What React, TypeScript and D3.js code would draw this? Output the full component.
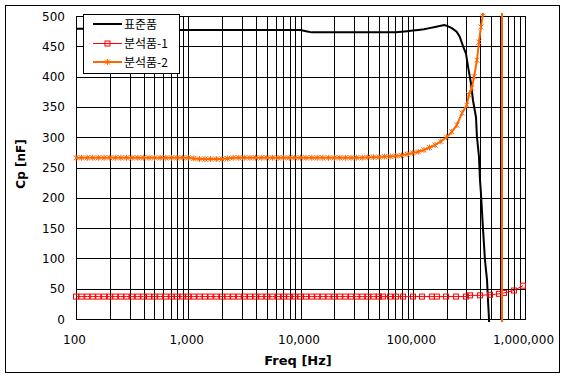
import React from "react";
import * as d3 from "d3";

// ---- data ----
const blackFreq = [
  100, 112, 126, 141, 158, 178, 200, 224, 251, 282, 316, 355, 398, 447, 501, 562, 631, 708, 794, 891,
  1000, 1120, 1260, 1410, 1580, 1780, 2000, 2240, 2510, 2820, 3160, 3550, 3980, 4470, 5010, 5620, 6310, 7080, 7940, 8910,
  10000, 11200, 12600, 14100, 15800, 17800, 20000, 22400, 25100, 28200, 31600, 35500, 39800, 44700, 50100, 56200, 63100, 70800, 79400, 89100,
  100000, 112000, 126000, 141000, 158000, 178000, 190000, 200000, 223000, 246000, 262000, 282000, 298000, 311000, 330000, 344000,
  366000, 373000, 389000, 397000, 405000, 423000, 440000, 459000, 468000, 478000, 490000, 520000,
];
const blackCp = [
  479, 479, 479, 479, 479, 479, 478, 478, 478, 478, 478, 478, 478, 478, 478, 477, 477, 477, 477, 477,
  477, 477, 477, 477, 477, 477, 477, 477, 477, 477, 477, 477, 477, 477, 477, 477, 477, 477, 477, 477,
  477, 475, 473, 473, 473, 473, 473, 473, 473, 473, 473, 473, 473, 473, 473, 473, 473, 473, 474, 475,
  476, 477, 478, 480, 482, 484, 485, 484, 480, 474, 466, 449, 438, 416, 389, 361,
  333, 301, 268, 230, 208, 147, 97, 64, 31, 0, -150, -600,
];

const redFreq = [
  100, 112, 126, 141, 158, 178, 200, 224, 251, 282, 316, 355, 398, 447, 501, 562, 631, 708, 794, 891,
  1000, 1120, 1260, 1410, 1580, 1780, 2000, 2240, 2510, 2820, 3160, 3550, 3980, 4470, 5010, 5620, 6310, 7080, 7940, 8910,
  10000, 11200, 12600, 14100, 15800, 17800, 20000, 22400, 25100, 28200, 31600, 35500, 39800, 44700, 50100,
  54300, 62700, 71000, 81900, 100500, 120800, 148000, 164000, 198000, 243000, 298000, 324000, 397000, 488000,
  586000, 650000, 798000, 960000,
];
const redCp = [
  37, 37, 37, 37, 37, 37, 37, 37, 37, 37, 37, 37, 37, 37, 37, 37, 37, 37, 37, 37,
  37, 37, 37, 37, 37, 37, 37, 37, 37, 37, 37, 37, 37, 37, 37, 37, 37, 37, 37, 37,
  37, 37, 37, 37, 37, 37, 37, 37, 37, 37, 37, 37, 37, 37, 37,
  37, 37, 37, 37, 37, 37, 37, 37, 37, 37, 37, 39, 39, 40,
  41.5, 43, 47, 55,
];

const orangeFreq = [
  100, 112, 126, 141, 158, 178, 200, 224, 251, 282, 316, 355, 398, 447, 501, 562, 631, 708, 794, 891,
  1000, 1120, 1260, 1410, 1580, 1780, 2000, 2240, 2510, 2820, 3160, 3550, 3980, 4470, 5010, 5620, 6310, 7080, 7940, 8910,
  10000, 11200, 12600, 14100, 15800, 17800, 20000, 22400, 25100, 28200, 31600, 35500, 39800, 44700, 50100, 56200, 63100, 70800, 79400, 89100,
  100000, 112000, 126000, 141000, 158000, 178000, 200000, 223000, 247000, 275000, 303000, 316000, 336000, 352000,
  373000, 389000, 405000, 423000, 590000, 660000, 800000, 1000000,
];
const orangeCp = [
  266, 266, 266, 266, 266, 266, 266, 266, 266, 266, 266, 266, 266, 266, 266, 266, 266, 266, 266, 266,
  266, 265, 264, 264, 264, 264, 264, 265, 266, 266, 266, 266, 266, 266, 266, 266, 266, 266, 266, 266,
  266, 266, 266, 266, 266, 266, 266, 266, 266, 266, 266, 266, 267, 267, 267, 268, 268, 269, 270, 272,
  274, 276, 279, 283, 287, 293, 300, 309, 320, 340, 353, 370, 381, 400,
  427, 457, 482, 505, 100000, -100000, -5000, -2000,
];

const xTicks = [100, 1000, 10000, 100000, 1000000];
const yTicks = [0, 50, 100, 150, 200, 250, 300, 350, 400, 450, 500];
const seriesNames = ["표준품", "분석품-1", "분석품-2"];

const W = 567;
const H = 379;
const plot = { left: 76, right: 525, top: 16, bottom: 319 };
const ORANGE = "#FF6600";
const RED = "#FF0000";

export default function App() {
  const x = d3.scaleLog().domain([100, 1000000]).range([plot.left, plot.right]);
  const y = d3.scaleLinear().domain([0, 500]).range([plot.bottom, plot.top]);

  const minorX: number[] = [];
  for (let dec = 100; dec < 1000000; dec *= 10) {
    for (let m = 2; m <= 9; m++) minorX.push(dec * m);
  }

  const mk = (fs: number[], vs: number[]) =>
    fs.map((f, i) => [f, vs[i]] as [number, number]);
  const line = d3
    .line<[number, number]>()
    .x((d) => x(d[0]))
    .y((d) => y(d[1]));

  const black = mk(blackFreq, blackCp);
  const red = mk(redFreq, redCp);
  const orange = mk(orangeFreq, orangeCp);

  const fmt = d3.format(",");
  const numFont = "'DejaVu Sans', Verdana, sans-serif";
  const krFont = "'Noto Sans CJK KR', 'DejaVu Sans', sans-serif";

  const star = (cx: number, cy: number, key: string | number) => (
    <g key={key} stroke={ORANGE} strokeWidth={1}>
      <line x1={cx - 2.5} y1={cy - 2.5} x2={cx + 2.5} y2={cy + 2.5} />
      <line x1={cx - 2.5} y1={cy + 2.5} x2={cx + 2.5} y2={cy - 2.5} />
      <line x1={cx} y1={cy - 3} x2={cx} y2={cy + 3} />
    </g>
  );
  const square = (cx: number, cy: number, key: string | number) => (
    <rect
      key={key}
      x={cx - 2.5}
      y={cy - 2.5}
      width={5}
      height={5}
      fill="none"
      stroke={RED}
      strokeWidth={1}
    />
  );

  const legendY = [24, 43, 62];

  return (
    <svg
      width={W}
      height={H}
      style={{ position: "absolute", left: 0, top: 0, background: "#fff" }}
    >
      <defs>
        <clipPath id="plotClip">
          <rect x={plot.left - 3} y={plot.top - 3} width={plot.right - plot.left + 6} height={plot.bottom - plot.top + 6} />
        </clipPath>
      </defs>
      <rect x={0} y={0} width={W} height={H} fill="#fff" />
      <rect x={5.5} y={5.5} width={554} height={367} fill="#fff" stroke="#000" strokeWidth={1} />

      {/* gridlines */}
      <g stroke="#000" strokeWidth={1} shapeRendering="crispEdges">
        {yTicks.map((t) => (
          <line key={"h" + t} x1={plot.left} x2={plot.right} y1={Math.round(y(t)) + 0.5} y2={Math.round(y(t)) + 0.5} />
        ))}
        {xTicks.map((t) => (
          <line key={"v" + t} x1={Math.round(x(t)) + 0.5} x2={Math.round(x(t)) + 0.5} y1={plot.top} y2={plot.bottom + 1} />
        ))}
        {minorX.map((t) => (
          <line key={"m" + t} x1={Math.round(x(t)) + 0.5} x2={Math.round(x(t)) + 0.5} y1={plot.top} y2={plot.bottom + 1} />
        ))}
      </g>

      {/* series */}
      <g clipPath="url(#plotClip)">
        <path d={line(black) || ""} fill="none" stroke="#000" strokeWidth={2} />
        <path d={line(red) || ""} fill="none" stroke={RED} strokeWidth={1} />
        {red.map((d, i) => square(x(d[0]), y(d[1]), "r" + i))}
        <path d={line(orange) || ""} fill="none" stroke={ORANGE} strokeWidth={2} />
        {orange.map((d, i) => star(x(d[0]), y(d[1]), "o" + i))}
      </g>

      {/* y tick labels */}
      <g fontFamily={numFont} fontSize={12} fill="#000" textAnchor="end">
        {yTicks.map((t) => (
          <text key={"yl" + t} x={65} y={y(t) + 4.5}>
            {t}
          </text>
        ))}
      </g>
      {/* x tick labels */}
      <g fontFamily={numFont} fontSize={12} fill="#000" textAnchor="middle">
        {xTicks.map((t) => (
          <text key={"xl" + t} x={x(t) - 1.5} y={344}>
            {fmt(t)}
          </text>
        ))}
      </g>

      {/* axis titles */}
      <text x={298} y={365} textAnchor="middle" fontFamily={numFont} fontSize={13} fontWeight="bold">
        Freq [Hz]
      </text>
      <text
        transform={`translate(25,164) rotate(-90)`}
        textAnchor="middle"
        fontFamily={numFont}
        fontSize={12}
        fontWeight="bold"
      >
        Cp [nF]
      </text>

      {/* legend */}
      <rect x={83.5} y={14.5} width={96} height={59} fill="#fff" stroke="#000" strokeWidth={1} />
      {seriesNames.map((name, i) => {
        const ly = legendY[i];
        return (
          <g key={"lg" + i}>
            {i === 0 && <line x1={93} x2={122} y1={ly} y2={ly} stroke="#000" strokeWidth={2} />}
            {i === 1 && (
              <>
                <line x1={93} x2={122} y1={ly + 0.5} y2={ly + 0.5} stroke={RED} strokeWidth={1} />
                {square(107.5, ly + 0.5, "ls")}
              </>
            )}
            {i === 2 && (
              <>
                <line x1={93} x2={122} y1={ly} y2={ly} stroke={ORANGE} strokeWidth={2} />
                {star(107.5, ly, "lo")}
              </>
            )}
            <text x={124} y={ly + 4.5} fontFamily={krFont} fontSize={12} fill="#000">
              {name}
            </text>
          </g>
        );
      })}
    </svg>
  );
}
